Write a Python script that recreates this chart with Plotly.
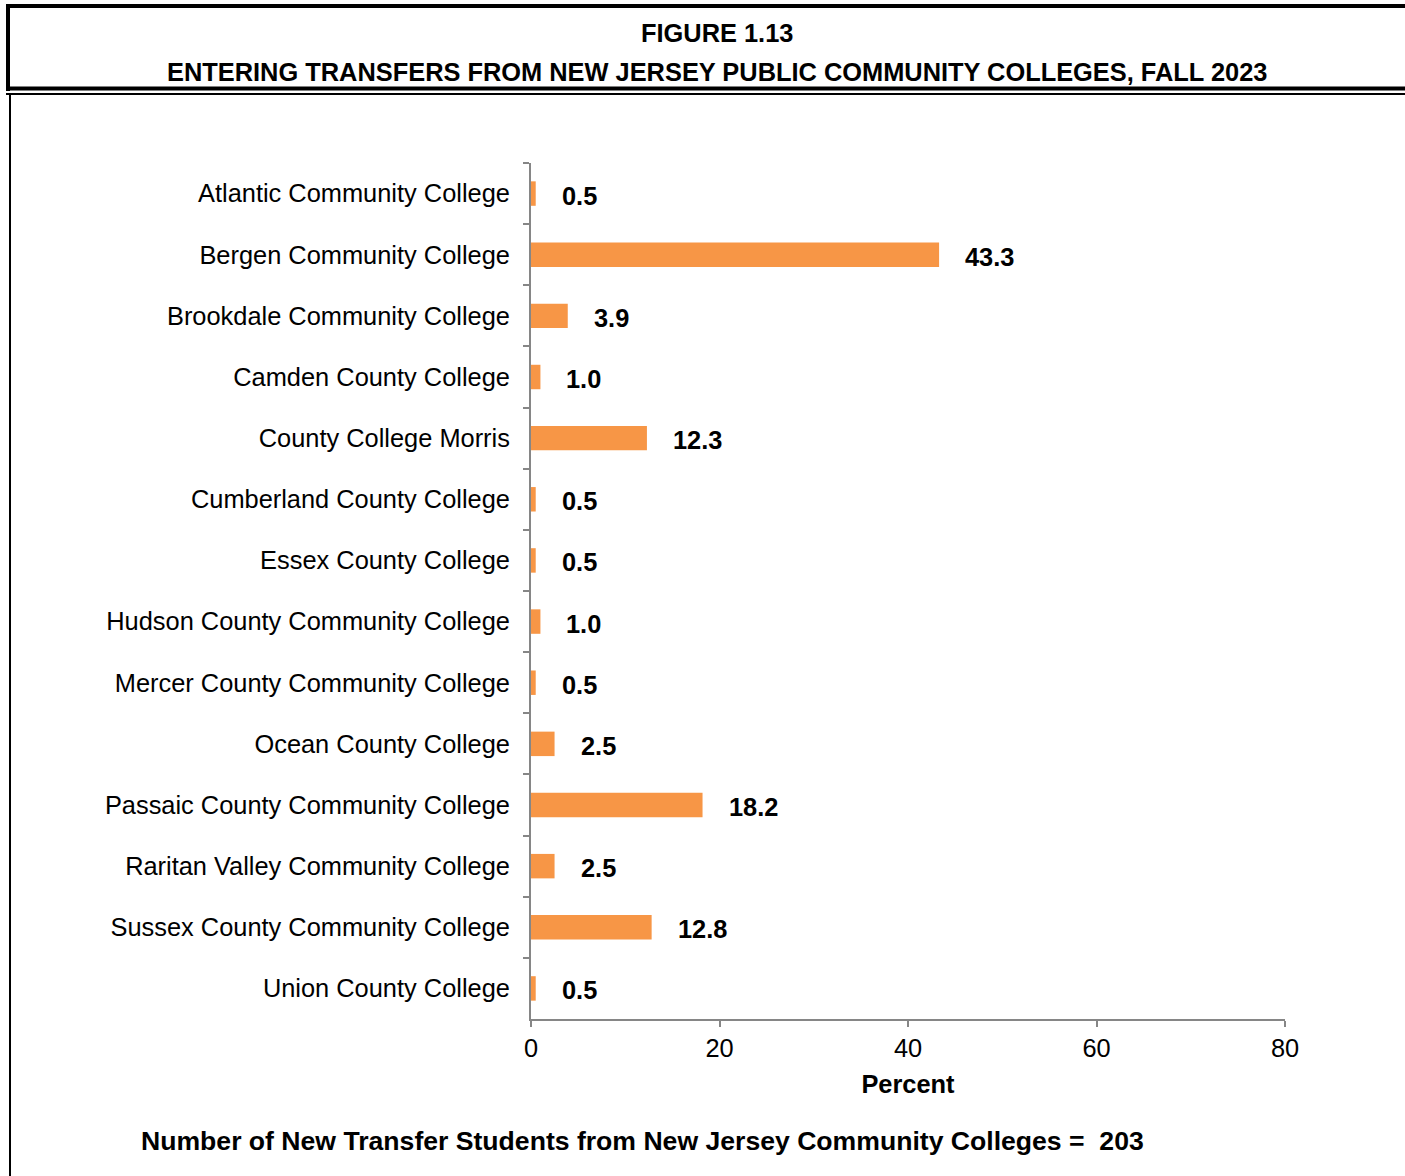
import plotly.graph_objects as go

colleges = [
    "Atlantic Community College",
    "Bergen Community College",
    "Brookdale Community College",
    "Camden County College",
    "County College Morris",
    "Cumberland County College",
    "Essex County College",
    "Hudson County Community College",
    "Mercer County Community College",
    "Ocean County College",
    "Passaic County Community College",
    "Raritan Valley Community College",
    "Sussex County Community College",
    "Union County College",
]
percent = [0.5, 43.3, 3.9, 1.0, 12.3, 0.5, 0.5, 1.0, 0.5, 2.5, 18.2, 2.5, 12.8, 0.5]
total_students = 203

W, H = 1405, 1176
L, R, T, B = 531, 120, 163, 157
FONT = "Liberation Sans, Arial, sans-serif"
FS = 25.4
AXIS_GREY = "#868686"


def px(x):
    # pixel x -> paper x
    return (x - L) / (W - L - R)


def py(y):
    # pixel y -> paper y
    return (H - B - y) / (H - T - B)


fig = go.Figure(go.Bar(
    x=percent,
    y=colleges,
    orientation="h",
    marker=dict(color="#F79646", line=dict(width=0)),
    width=0.4,
    hoverinfo="x+y",
))

# etiquetas de valor em negrito
for c, v in zip(colleges, percent):
    fig.add_annotation(
        x=v, y=c, text=f"<b>{v:.1f}</b>", showarrow=False,
        xanchor="left", xshift=24, yshift=-2,
        font=dict(size=FS, color="black", family=FONT),
    )

fig.update_layout(
    width=W, height=H,
    margin=dict(l=L, r=R, t=T, b=B),
    paper_bgcolor="white",
    plot_bgcolor="white",
    showlegend=False,
    font=dict(family=FONT, size=FS, color="black"),
    xaxis=dict(
        range=[0, 80], dtick=20, tick0=0,
        showgrid=False, zeroline=False,
        showline=True, linecolor=AXIS_GREY, linewidth=2,
        ticks="outside", ticklen=6, tickcolor=AXIS_GREY, tickwidth=2,
        tickfont=dict(size=FS),
        title=dict(text="<b>Percent</b>", font=dict(size=FS), standoff=14),
    ),
    yaxis=dict(
        autorange="reversed",
        showgrid=False, zeroline=False,
        showline=True, linecolor=AXIS_GREY, linewidth=2,
        ticks="outside", ticklen=6, tickcolor=AXIS_GREY, tickwidth=2,
        tickson="boundaries",
        tickfont=dict(size=FS),
        ticklabelstandoff=14,
    ),
)

# titulo
fig.add_annotation(
    xref="paper", yref="paper", x=px(717), y=py(33),
    text="<b>FIGURE 1.13</b>", showarrow=False,
    font=dict(size=FS, family=FONT), xanchor="center", yanchor="middle",
)
fig.add_annotation(
    xref="paper", yref="paper", x=px(717), y=py(72),
    text="<b>ENTERING TRANSFERS FROM NEW JERSEY PUBLIC COMMUNITY COLLEGES, FALL 2023</b>",
    showarrow=False,
    font=dict(size=FS, family=FONT), xanchor="center", yanchor="middle",
)
# rodape
fig.add_annotation(
    xref="paper", yref="paper", x=px(139), y=py(1141),
    text=f"<b>Number of New Transfer Students from New Jersey Community Colleges =  {total_students}</b>",
    showarrow=False,
    font=dict(size=26.6, family=FONT), xanchor="left", yanchor="middle",
)

# molduras
shapes = [
    # caixa do titulo
    dict(x0=px(8), x1=px(8), y0=py(4), y1=py(91), width=4),
    dict(x0=px(6), x1=px(W + 10), y0=py(6), y1=py(6), width=4),
    dict(x0=px(6), x1=px(W + 10), y0=py(88.5), y1=py(88.5), width=4),
    dict(x0=px(6), x1=px(W + 10), y0=py(94), y1=py(94), width=2),
    # caixa do grafico
    dict(x0=px(10), x1=px(10), y0=py(94), y1=py(H + 10), width=2),
]
for s in shapes:
    fig.add_shape(
        type="line", xref="paper", yref="paper",
        x0=s["x0"], x1=s["x1"], y0=s["y0"], y1=s["y1"],
        line=dict(color="black", width=s["width"]),
    )

# tira a margem padrao do body para a figura ocupar a janela toda
fig.write_html(
    "out.html",
    config={"displayModeBar": False},
    post_script="document.body.style.margin='0';",
)
